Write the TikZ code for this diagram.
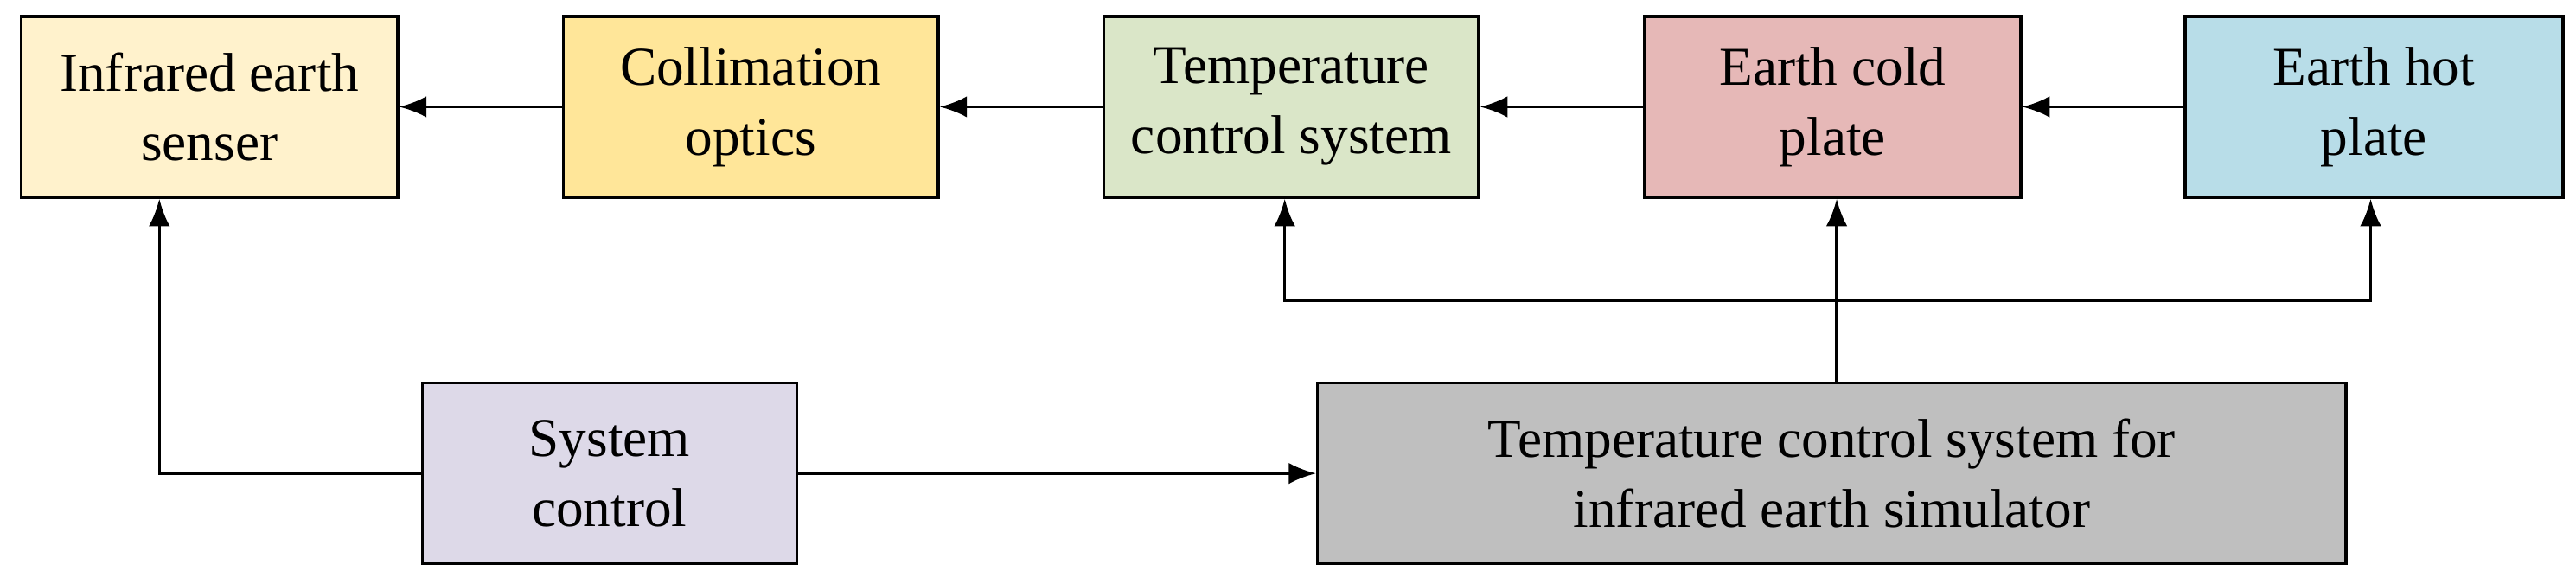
\documentclass[tikz,border=0pt]{standalone}
\usepackage{fontspec}
\setmainfont{Liberation Serif}
\usetikzlibrary{arrows.meta}
\definecolor{cA}{HTML}{FFF2CC}
\definecolor{cB}{HTML}{FFE699}
\definecolor{cC}{HTML}{DAE6C8}
\definecolor{cD}{HTML}{E6B8B7}
\definecolor{cE}{HTML}{B8DDE8}
\definecolor{cF}{HTML}{DDD9E8}
\definecolor{cG}{HTML}{BFBFBF}
\begin{document}
\begin{tikzpicture}[x=0.019cm,y=-0.019cm,
  box/.style={draw,line width=1pt,inner sep=0pt,align=center,font=\fontsize{18}{23}\selectfont},
  arr/.style={line width=1pt,-{Latex[length=9pt,width=7pt]}}]
\useasboundingbox (0,0) rectangle (1568,351.6);
\node[box,fill=cA,minimum width=229*0.019cm,minimum height=110*0.019cm] (s) at (127.5,65) {Infrared earth\\senser};
\node[box,fill=cB,minimum width=228*0.019cm,minimum height=110*0.019cm] (c) at (457,65) {Collimation\\optics};
\node[box,fill=cC,minimum width=228*0.019cm,minimum height=110*0.019cm] (t) at (786,65) {Temperature\\control system};
\node[box,fill=cD,minimum width=229*0.019cm,minimum height=110*0.019cm] (k) at (1115.5,65) {Earth cold\\plate};
\node[box,fill=cE,minimum width=230*0.019cm,minimum height=110*0.019cm] (h) at (1445,65) {Earth hot\\plate};
\node[box,fill=cF,minimum width=228*0.019cm,minimum height=110*0.019cm] (sc) at (371,288) {System\\control};
\node[box,fill=cG,minimum width=626*0.019cm,minimum height=110*0.019cm] (sim) at (1115,288) {Temperature control system for\\infrared earth simulator};
\draw[arr] (h) -- (k);
\draw[arr] (k) -- (t);
\draw[arr] (t) -- (c);
\draw[arr] (c) -- (s);
\draw[arr] (sc.west) -| (s.south -| 97,0);
\draw[arr] (sc.east) -- (sim.west);
\coordinate (j) at (1118,183);
\draw[arr] (sim.north -| j) -- (k.south -| j);
\draw[arr] (j) -| (t.south -| 782,0);
\draw[arr] (j) -| (h.south -| 1443,0);
\end{tikzpicture}
\end{document}
